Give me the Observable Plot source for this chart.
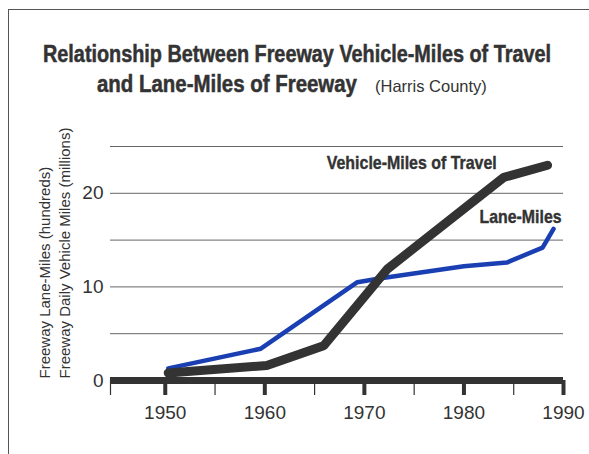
<!DOCTYPE html>
<html><head><meta charset="utf-8">
<script src="https://cdn.jsdelivr.net/npm/d3@7"></script>
<script src="https://cdn.jsdelivr.net/npm/@observablehq/plot@0.6"></script>
<style>
body{margin:0;background:#fff;}
#wrap{position:relative;width:589px;height:454px;overflow:hidden;background:#fff;}
#frame{position:absolute;left:8px;top:9px;width:600px;height:460px;border-top:1.5px solid #555;border-left:1.5px solid #555;}
.t{position:absolute;display:block;white-space:nowrap;color:#333;line-height:30px;transform-origin:0 50%;}
.b{font-family:"Liberation Sans",Arial,sans-serif;font-weight:bold;font-size:23px;-webkit-text-stroke:0.5px #333;}
.r{font-family:"Liberation Sans",Arial,sans-serif;font-weight:normal;font-size:16.5px;}
#chart{position:absolute;left:0;top:110px;}
</style></head>
<body>
<div id="wrap"><div id="frame"></div>
<span id="t1" class="t b" style="left:43px;top:39px">Relationship Between Freeway Vehicle-Miles of Travel</span>
<span id="t2" class="t b" style="left:97px;top:69px">and Lane-Miles of Freeway</span>
<span id="t3" class="t r" style="left:375px;top:71px">(Harris County)</span>
<div id="chart"></div></div>
<script>
// Data
const vmtYears  = [1950.3, 1960.2, 1965.9, 1972.3, 1984.0, 1988.4];
const vmtValues = [0.8, 1.6, 3.7, 11.9, 21.7, 23.0];
const laneYears  = [1950.3, 1959.6, 1969.3, 1971.5, 1976, 1980, 1984.3, 1987.9, 1989.0];
const laneValues = [1.3, 3.4, 10.5, 10.9, 11.6, 12.2, 12.6, 14.2, 16.2];
const xDomain = [1944.5, 1990];
const majorTicks = [1950, 1960, 1970, 1980, 1990];
const minorTicks = [1944.5, 1955, 1965, 1975, 1985];
const yTicks = [0, 10, 20];
const gridValues = [5, 10, 15, 20, 25];
const vmtLabel = "Vehicle-Miles of Travel";
const laneLabel = "Lane-Miles";
const yLabel = "Freeway Lane-Miles (hundreds)\nFreeway Daily Vehicle Miles (millions)";

// condense the bold title lines (reference uses a condensed bold face)
function fit(id, w) {
  const el = document.getElementById(id);
  const nat = el.getBoundingClientRect().width;
  el.style.transform = `scaleX(${w / nat})`;
}
fit("t1", 508);
fit("t2", 260);

const vmt = vmtYears.map((year, i) => ({year, value: vmtValues[i]}));
const lane = laneYears.map((year, i) => ({year, value: laneValues[i]}));
const boldFont = "Liberation Sans, Arial, sans-serif";

const plot = Plot.plot({
  width: 589, height: 344,
  marginLeft: 110, marginRight: 26, marginTop: 36, marginBottom: 74,
  x: {domain: xDomain},
  y: {domain: [0, 25]},
  style: {fontFamily: "Liberation Sans, Arial, sans-serif", fontSize: "19px", color: "#333", background: "transparent"},
  marks: [
    Plot.ruleY(gridValues, {stroke: "#666", strokeWidth: 1}),
    Plot.axisY({ticks: yTicks, tickSize: 0, tickPadding: 7, label: null, fontSize: 19}),
    Plot.axisX({ticks: minorTicks, tickSize: 15, strokeWidth: 1.2, tickFormat: () => "", label: null}),
    Plot.axisX({ticks: majorTicks, tickSize: 15, strokeWidth: 4, tickFormat: d => String(d), tickPadding: 10, label: null, fontSize: 19}),
    Plot.ruleY([0], {stroke: "#333", strokeWidth: 7}),
    Plot.line(lane, {x: "year", y: "value", stroke: "#1a3fb2", strokeWidth: 4.5, strokeLinejoin: "miter"}),
    Plot.line(vmt, {x: "year", y: "value", stroke: "#333", strokeWidth: 9, strokeLinejoin: "miter"}),
    Plot.text([vmt[4]], {x: "year", y: "value", text: () => vmtLabel, textAnchor: "end", lineAnchor: "bottom", dx: -7, dy: -8, fontFamily: boldFont, fontWeight: "bold", fontSize: 19, fill: "#333", stroke: "#333", strokeWidth: 0.4}),
    Plot.text([lane[lane.length - 1]], {x: "year", y: "value", text: () => laneLabel, textAnchor: "end", lineAnchor: "bottom", dx: 8, dy: -5.5, fontFamily: boldFont, fontWeight: "bold", fontSize: 19, fill: "#333", stroke: "#333", strokeWidth: 0.4}),
    Plot.text([yLabel], {frameAnchor: "bottom-left", rotate: -90, textAnchor: "start", lineAnchor: "bottom", lineHeight: 1.33, dx: -41, dy: -2, fontSize: 15, fill: "#333"})
  ]
});
// condense the bold in-chart labels to the reference widths
const condensed = {[vmtLabel]: 170, [laneLabel]: 82};
d3.select(plot).selectAll("text").each(function() {
  const w = condensed[this.textContent];
  if (w) d3.select(this).attr("textLength", w).attr("lengthAdjust", "spacingAndGlyphs");
});
document.getElementById("chart").appendChild(plot);
</script>
</body></html>
